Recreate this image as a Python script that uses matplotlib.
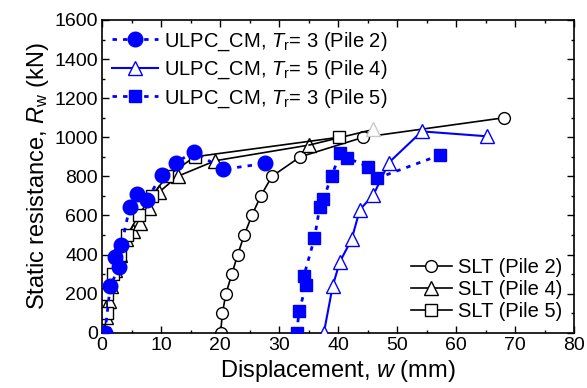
import numpy as np
import matplotlib
matplotlib.use("Agg")
import matplotlib.pyplot as plt

plt.rcParams["font.family"] = ["Liberation Sans", "DejaVu Sans"]
plt.rcParams["mathtext.fontset"] = "custom"
plt.rcParams["mathtext.rm"] = "Liberation Sans"
plt.rcParams["mathtext.it"] = "Liberation Sans:italic"
plt.rcParams["font.size"] = 14

# static load tests
slt2_w = [20.1, 20.4, 21.0, 22.0, 23.0, 24.1, 25.4, 26.9, 28.8, 33.6, 44.3, 68.2]
slt2_r = [0, 100, 200, 300, 400, 500, 600, 700, 800, 900, 1000, 1100]

slt4_w = [0.2, 0.6, 1.1, 1.5, 2.2, 3.0, 4.0, 5.2, 6.4, 7.9, 9.7, 12.8, 19.2, 35.1, 46.0]
slt4_r = [0, 80, 160, 240, 320, 400, 480, 520, 560, 640, 720, 800, 880, 960, 1040]

slt5_w = [0.3, 0.9, 0.8, 1.9, 3.1, 4.3, 6.2, 8.4, 11.0, 15.7, 40.2]
slt5_r = [0, 100, 200, 300, 400, 500, 600, 700, 800, 900, 1000]

# ULPC_CM results
cm2_w = [0.5, 1.4, 2.9, 2.2, 3.3, 4.7, 6.0, 7.6, 10.1, 12.5, 15.6, 20.5, 27.7]
cm2_r = [0, 240, 334, 389, 448, 644, 708, 679, 807, 870, 926, 836, 866]

cm4_w = [37.6, 39.1, 40.3, 42.3, 43.7, 46.0, 48.6, 54.2, 65.2]
cm4_r = [0, 240, 362, 478, 630, 705, 870, 1030, 1005]

cm5_w = [33.0, 33.4, 34.6, 34.2, 36.0, 36.9, 37.5, 38.9, 40.4, 41.5, 45.1, 46.6, 57.3]
cm5_r = [0, 112, 244, 290, 483, 644, 682, 801, 920, 895, 849, 790, 909]

fig = plt.figure(figsize=(5.87, 3.88), dpi=100)
ax = fig.add_axes([0.1738, 0.1425, 0.8042, 0.806])

blue = "#0000ff"
dots = (0, (1.6, 2.2))

l_s2, = ax.plot(slt2_w, slt2_r, "-", color="k", lw=1.2, marker="o", ms=8.5,
                mfc="white", mec="k", mew=1.0, label="SLT (Pile 2)", zorder=2)
l_s4, = ax.plot(slt4_w[:-1], slt4_r[:-1], "-", color="k", lw=1.2, marker="^", ms=9.5,
                mfc="white", mec="k", mew=1.0, label="SLT (Pile 4)", zorder=2)
ax.plot(slt4_w[-2:], slt4_r[-2:], "-", color="k", lw=1.2, zorder=2)
ax.plot(slt4_w[-1], slt4_r[-1], "^", ms=9.5, mfc="white", mec="#c8c8c8", mew=1.0, zorder=2)
l_s5, = ax.plot(slt5_w, slt5_r, "-", color="k", lw=1.2, marker="s", ms=8,
                mfc="white", mec="k", mew=1.0, label="SLT (Pile 5)", zorder=2)

l_c2, = ax.plot(cm2_w, cm2_r, linestyle=dots, color=blue, lw=2, marker="o", ms=10.5,
                mfc=blue, mec=blue, label=r"ULPC_CM, $T_\mathrm{r}$= 3 (Pile 2)", zorder=3)
l_c4, = ax.plot(cm4_w, cm4_r, "-", color=blue, lw=1.5, marker="^", ms=10,
                mfc="white", mec=blue, mew=1.0, label=r"ULPC_CM, $T_\mathrm{r}$= 5 (Pile 4)", zorder=3)
l_c5, = ax.plot(cm5_w, cm5_r, linestyle=dots, color=blue, lw=2, marker="s", ms=8,
                mfc=blue, mec=blue, label=r"ULPC_CM, $T_\mathrm{r}$= 3 (Pile 5)", zorder=3)

ax.set_xlim(0, 80)
ax.set_ylim(0, 1600)
ax.set_xticks(np.arange(0, 81, 10))
ax.set_yticks(np.arange(0, 1601, 200))
ax.set_xticks(np.arange(0, 81, 5), minor=True)
ax.set_yticks(np.arange(0, 1601, 100), minor=True)
ax.tick_params(which="both", direction="in", top=True, right=True, width=1.0)
ax.tick_params(which="major", length=5, labelsize=14, pad=3)
ax.tick_params(which="minor", length=2.5)
for s in ax.spines.values():
    s.set_linewidth(1.2)

ax.set_xlabel(r"Displacement, $w$ (mm)", fontsize=17, labelpad=3)
ax.set_ylabel(r"Static resistance, $R_\mathrm{w}$ (kN)", fontsize=17, labelpad=2)

leg1 = ax.legend(handles=[l_c2, l_c4, l_c5], loc="upper left", frameon=False,
                 fontsize=14.5, handlelength=2.3, handletextpad=0.3,
                 labelspacing=0.3, borderaxespad=0.1, bbox_to_anchor=(0.0, 1.0))
ax.add_artist(leg1)
ax.legend(handles=[l_s2, l_s4, l_s5], loc="lower right", frameon=False,
          fontsize=14.5, handlelength=2.0, handletextpad=0.3,
          labelspacing=0.15, borderaxespad=0.2)

fig.savefig("out.png", dpi=100)
